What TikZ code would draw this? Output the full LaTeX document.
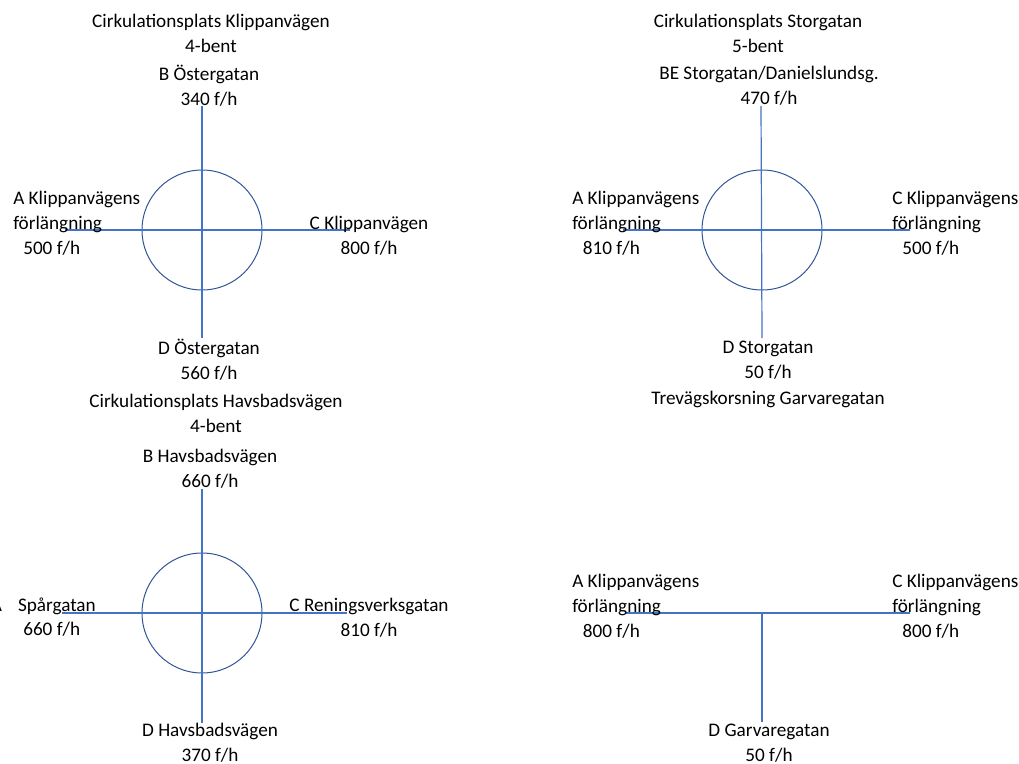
\documentclass[tikz,border=0pt]{standalone}
\usepackage{fontspec}
\setmainfont{Carlito}
\usetikzlibrary{positioning}

\definecolor{roadblue}{HTML}{4472C4}
\definecolor{ringblue}{HTML}{2F5597}
\newcommand{\roadfont}{\fontsize{14.4}{18.75}\selectfont}

\begin{document}
\begin{tikzpicture}[x=0.75pt,y=-0.75pt]
\useasboundingbox (0,0) rectangle (1019,763);
% centres and free ends of the roads
\coordinate (c1) at (202,230);
\coordinate (n1) at (202,106);
\coordinate (s1) at (202,338);
\coordinate (w1) at (65,230);
\coordinate (e1) at (350,230);
\coordinate (c2) at (762,230);
\coordinate (n2) at (761,106);
\coordinate (s2) at (762,338);
\coordinate (w2) at (623,230);
\coordinate (e2) at (910,230);
\coordinate (c3) at (202,613);
\coordinate (n3) at (202,489);
\coordinate (s3) at (202,723);
\coordinate (w3) at (62,613);
\coordinate (e3) at (347,613);
\coordinate (j4) at (762,613);
\coordinate (s4) at (762,722);
\coordinate (w4) at (625,613);
\coordinate (e4) at (910,613);
\begin{scope}[every node/.style={circle,draw=ringblue,line width=0.75pt,
                                 minimum size=90pt,inner sep=0pt}]
    \node (ring1) at (c1) {};
    \node (ring2) at (c2) {};
    \node (ring3) at (c3) {};
\end{scope}
\begin{scope}[every edge/.style={draw=roadblue,line width=0.9pt}]
    \path [-] (n1) edge (s1) (w1) edge (e1);
    \path [-] (n2) edge (s2) (w2) edge (e2);
    \path [-] (n3) edge (s3) (w3) edge (e3);
    \path [-] (w4) edge (e4) (j4) edge (s4);
\end{scope}
\begin{scope}[every node/.style={font=\roadfont,align=center,inner sep=0pt}]
    % Klippanvägen
    \node (title1) at (211,33) {Cirkulationsplats Klippanvägen\\4-bent};
    \node (B1) at (209,86) {B Östergatan\\340 f/h};
    \node (A1) [anchor=west,align=left] at (13,223)
        {A Klippanvägens\\förlängning\\\hspace*{7.5pt}500 f/h};
    \node (C1) at (369,236) {C Klippanvägen\\800 f/h};
    \node (D1) at (209,360) {D Östergatan\\560 f/h};
    % Storgatan
    \node (title2) at (758,33) {Cirkulationsplats Storgatan\\5-bent};
    \node (B2) at (769,86) {BE Storgatan/Danielslundsg.\\470 f/h};
    \node (A2) [anchor=west,align=left] at (572,223)
        {A Klippanvägens\\förlängning\\\hspace*{8pt}810 f/h};
    \node (C2) [anchor=west,align=left] at (892,223)
        {C Klippanvägens\\förlängning\\\hspace*{7.5pt}500 f/h};
    \node (D2) at (768,360) {D Storgatan\\50 f/h};
    % Havsbadsvägen
    \node (title3) at (216,413) {Cirkulationsplats Havsbadsvägen\\4-bent};
    \node (B3) at (210,469) {B Havsbadsvägen\\660 f/h};
    \node (A3) [anchor=east] at (96,606) {A\hspace*{12pt}Spårgatan};
    \node (A3f) [anchor=west] at (23,629) {660 f/h};
    \node (C3) at (369,618) {C Reningsverksgatan\\810 f/h};
    \node (D3) at (210,743) {D Havsbadsvägen\\370 f/h};
    % Garvaregatan
    \node (title4) at (768,399) {Trevägskorsning Garvaregatan};
    \node (A4) [anchor=west,align=left] at (572,606)
        {A Klippanvägens\\förlängning\\\hspace*{8pt}800 f/h};
    \node (C4) [anchor=west,align=left] at (892,606)
        {C Klippanvägens\\förlängning\\\hspace*{7.5pt}800 f/h};
    \node (D4) at (769,743) {D Garvaregatan\\50 f/h};
\end{scope}
\end{tikzpicture}
\end{document}
